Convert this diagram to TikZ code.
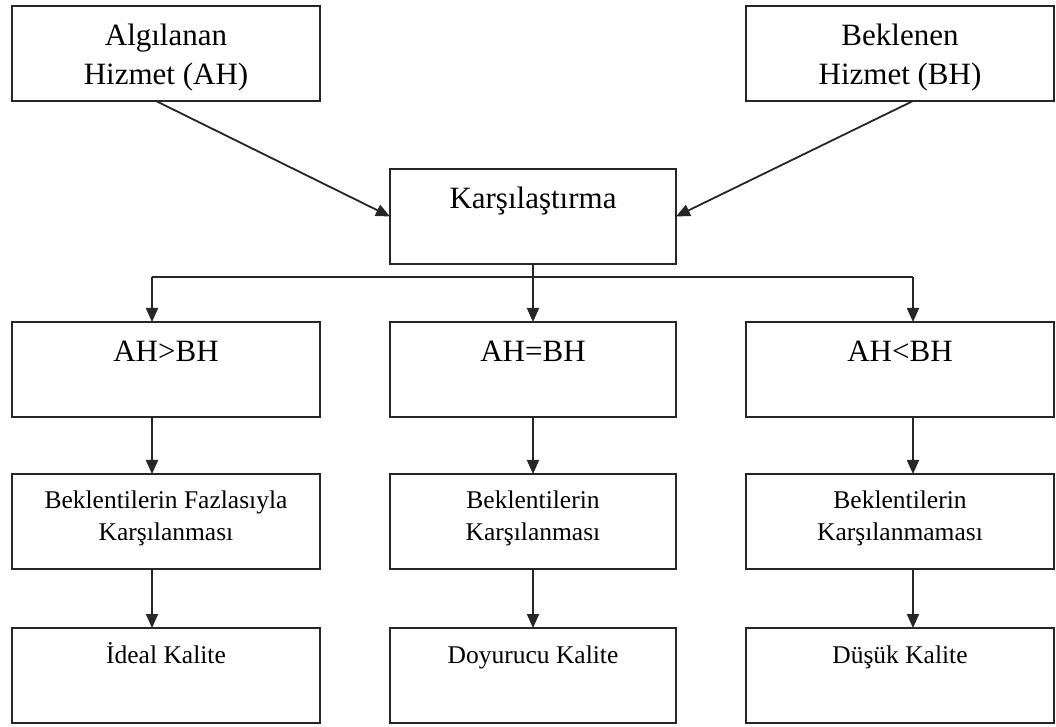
\documentclass[tikz,border=0pt]{standalone}
\usepackage{fontspec}
\setmainfont{Liberation Serif}
\usetikzlibrary{arrows.meta,positioning}

\newcommand{\buyukyazi}{\fontsize{15.5}{19.5}\selectfont}
\newcommand{\kucukyazi}{\fontsize{12.75}{16}\selectfont}

\begin{document}
\begin{tikzpicture}[x=0.5pt, y=-0.5pt, >={Triangle[length=7pt,width=6pt]},
    kutu/.style={rectangle, draw=black!85, line width=0.9pt, inner sep=0pt, outer sep=0pt, align=flush center, fill=white},
    yan/.style={kutu, text width=154pt},
    orta/.style={kutu, text width=143pt},
    ust/.style={font=\buyukyazi, text height=20pt, text depth=27.5pt},
    alt/.style={font=\kucukyazi, text height=17.5pt, text depth=30pt},
    ok/.style={->, draw=black!85, line width=0.9pt}]
    \useasboundingbox (0,0) rectangle (1056,727);
    % ust kisim
    \node (ah) [yan, ust, anchor=north] at (166,6) {Algılanan\\Hizmet (AH)};
    \node (bh) [yan, ust, anchor=north] at (900,6) {Beklenen\\Hizmet (BH)};
    \node (kar) [orta, ust, anchor=north] at (533,169) {Karşılaştırma};
    % karsilastirma sonuclari
    \node (es) [orta, ust, below=29pt of kar] {AH=BH};
    \node (gs) [yan, ust, left=35pt of es] {AH>BH};
    \node (ks) [yan, ust, right=35pt of es] {AH<BH};
    \node (es2) [orta, alt, below=28.5pt of es] {Beklentilerin\\Karşılanması};
    \node (gs2) [yan, alt, below=28.5pt of gs] {Beklentilerin Fazlasıyla\\Karşılanması};
    \node (ks2) [yan, alt, below=28.5pt of ks] {Beklentilerin\\Karşılanmaması};
    \node (es3) [orta, alt, below=29.5pt of es2] {Doyurucu Kalite};
    \node (gs3) [yan, alt, below=29.5pt of gs2] {İdeal Kalite};
    \node (ks3) [yan, alt, below=29.5pt of ks2] {Düşük Kalite};
    \coordinate (dal) at ([yshift=-6.5pt]kar.south);
    \coordinate (sol) at ([xshift=-7pt]gs.north |- dal);
    \coordinate (sag) at ([xshift=6.5pt]ks.north |- dal);
    \draw[ok] ([xshift=-5pt]ah.south) -- (kar.west);
    \draw[ok] ([xshift=6.5pt]bh.south) -- (kar.east);
    \draw[draw=black!85, line width=0.9pt] (sol) -- (sag);
    \draw[ok] (kar.south) -- (es.north);
    \draw[ok] (sol) -- ([xshift=-7pt]gs.north);
    \draw[ok] (sag) -- ([xshift=6.5pt]ks.north);
    \draw[ok] ([xshift=-7pt]gs.south) -- ([xshift=-7pt]gs2.north);
    \draw[ok] (es.south) -- (es2.north);
    \draw[ok] ([xshift=6.5pt]ks.south) -- ([xshift=6.5pt]ks2.north);
    \draw[ok] ([xshift=-7pt]gs2.south) -- ([xshift=-7pt]gs3.north);
    \draw[ok] (es2.south) -- (es3.north);
    \draw[ok] ([xshift=6.5pt]ks2.south) -- ([xshift=6.5pt]ks3.north);
\end{tikzpicture}
\end{document}
